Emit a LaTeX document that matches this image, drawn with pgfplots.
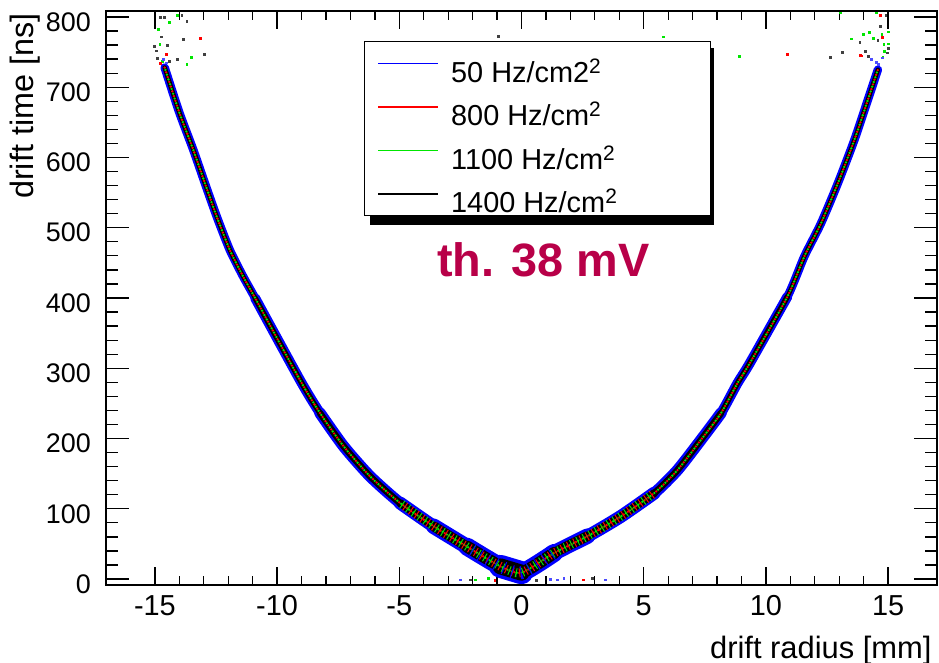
\documentclass[border=0pt]{standalone}
\usepackage{pgfplots}
\pgfplotsset{compat=1.18}
\usepackage{pgfplotstable}
\usepackage{fontspec}
\setmainfont{Liberation Sans}

\definecolor{rootblue}{RGB}{0,0,255}
\definecolor{rootred}{RGB}{255,0,0}
\definecolor{rootgreen}{RGB}{0,230,0}
\definecolor{thcolor}{RGB}{184,0,72}

% r-t relation: drift time [ns] against drift radius [mm], centre of the band
\pgfplotstableread{
r t
-14.60 728
-14.00 664
-13.43 611
-12.95 563
-12.47 516
-11.93 468
-11.38 430
-10.90 400
-9.06 283
-8.24 236
-7.28 189
-6.19 146
-4.96 108
-3.59 75
-2.22 46
-0.86 18
0.00 9
1.33 37
2.70 61
4.06 89
5.42 122
6.38 155
7.34 198
8.16 236
8.84 279
9.32 306
10.88 402
11.57 459
12.25 506
12.94 563
13.62 625
14.17 682
14.58 725
}\driftcurve

% stray hits outside the band
\pgfplotstableread{
r t
-14.77 800
-14.63 800
-13.90 802
-13.70 794
-14.74 772
-13.84 768
-15.03 758
-14.50 760
-14.95 752
-12.97 747
-14.90 741
-14.08 740
-14.40 737
14.90 803
14.67 787
13.84 764
14.57 767
15.01 755
13.11 750
14.07 751
14.17 744
12.62 743
14.96 749
-0.94 773
-2.10 -1
0.60 -2
2.90 1
}\strayblack

\pgfplotstableread{
r t
-14.10 803
-14.40 792
-14.86 783
-14.80 761
-13.50 743
-13.70 733
-14.70 737
13.03 807
14.50 807
14.99 779
13.99 776
14.24 778
14.74 775
14.40 770
13.50 769
14.99 762
14.82 761
14.85 751
14.78 743
8.90 744
5.80 772
-1.90 -1
-1.35 1
}\straygreen

\pgfplotstableread{
r t
-13.14 770
-14.55 747
-14.77 734
14.68 803
14.75 771
13.89 745
10.86 747
13.87 746
-1.10 -2
2.52 -1
}\strayred

\pgfplotstableread{
r t
14.30 740
14.50 736
14.75 742
14.60 733
-14.65 740
-14.55 735
-2.50 -1
1.19 0
1.46 -1
1.73 1
3.44 -1
}\strayblue

\newcommand{\sq}{\raisebox{9bp}{\fontsize{21}{21}\selectfont 2}}
\newcommand{\entry}[1]{\makebox[246bp][l]{\rule[-2.4bp]{0pt}{41.1bp}#1}}

\pgfplotsset{
  rootframe/.style={
    at={(106bp,78bp)}, anchor=south west,
    scale only axis, width=831bp, height=574bp,
    xmin=-17, xmax=17, ymin=-8.5, ymax=808.5,
    axis line style={line width=1.6bp},
    tick style={line width=1.3bp, black},
    tick align=inside,
    /pgf/number format/assume math mode=true,
  },
  band/.style={smooth, tension=0.4, line join=round, line cap=round, forget plot},
  speck/.style={band, dash pattern=on 0bp off 5bp},
  stripe/.style={band, line cap=butt, dash pattern=on 1bp off 6bp},
}

\begin{document}
\begin{tikzpicture}
\path[use as bounding box] (0bp,0bp) rectangle (939bp,663bp);

% drop shadow of the legend box
\fill[black] (370bp,438.3bp) rectangle (714bp,615bp);

% x ticks, data and legend
\begin{axis}[
  rootframe,
  major tick length=17.7bp, minor tick length=9bp,
  xtick={-15,-10,...,15}, minor x tick num=4,
  ytick=\empty,
  xticklabel style={font=\fontsize{29}{29}\selectfont, anchor=north, inner sep=0pt, yshift=-10bp},
  legend cell align=left,
  legend image code/.code={\draw[#1] (0bp,0bp) -- (60bp,0bp); \path (72bp,0bp);},
  legend style={at={(0.3105,0.9477)}, anchor=north west,
    draw=black, line width=1bp, fill=white,
    inner xsep=13bp, inner ysep=2bp, row sep=3.2bp,
    font=\fontsize{29}{29}\selectfont,
    nodes={inner sep=0pt}},
]
\addlegendimage{rootblue, line width=1.6bp}
\addlegendimage{rootred, line width=1.6bp}
\addlegendimage{rootgreen, line width=1.6bp}
\addlegendimage{black, line width=1.6bp}

% 50 Hz/cm2: blue halo, widening towards the wire
\addplot[rootblue, line width=8.5bp, band] table {\driftcurve};
\addplot[rootblue, line width=10bp, band, restrict x to domain=-11:11] table {\driftcurve};
\addplot[rootblue, line width=11.5bp, band, restrict x to domain=-8.3:8.3] table {\driftcurve};
\addplot[rootblue, line width=13bp, band, restrict x to domain=-5.5:5.5] table {\driftcurve};
\addplot[rootblue, line width=15.5bp, band, restrict x to domain=-3.7:3.7] table {\driftcurve};
\addplot[rootblue, line width=18bp, band, restrict x to domain=-2.3:2.3] table {\driftcurve};
\addplot[rootblue, line width=23bp, band, restrict x to domain=-1:1] table {\driftcurve};

% 1400 Hz/cm2: dark core
\addplot[black, line width=4.5bp, band] table {\driftcurve};
\addplot[black, line width=5.5bp, band, restrict x to domain=-11:11] table {\driftcurve};
\addplot[black, line width=6.5bp, band, restrict x to domain=-8.3:8.3] table {\driftcurve};
\addplot[black, line width=8bp, band, restrict x to domain=-5.5:5.5] table {\driftcurve};
\addplot[black, line width=10bp, band, restrict x to domain=-3.7:3.7] table {\driftcurve};
\addplot[black, line width=12bp, band, restrict x to domain=-2.3:2.3] table {\driftcurve};
\addplot[black, line width=16bp, band, restrict x to domain=-1:1] table {\driftcurve};

% 800 and 1100 Hz/cm2: speckles inside the core
\addplot[rootred, line width=2.6bp, speck] table {\driftcurve};
\addplot[rootgreen, line width=2.6bp, speck, dash phase=2.5bp] table {\driftcurve};
\addplot[rootred, line width=9bp, stripe, dash phase=1.5bp, restrict x to domain=-5.5:5.5] table {\driftcurve};
\addplot[rootgreen, line width=9bp, stripe, dash phase=5bp, restrict x to domain=-5.5:5.5] table {\driftcurve};
\addplot[rootblue, line width=13bp, stripe, dash pattern=on 1bp off 8bp, dash phase=3bp, restrict x to domain=-2.3:2.3] table {\driftcurve};

% stray hits
\addplot[only marks, mark=square*, mark size=0.9bp, black!75, forget plot] table {\strayblack};
\addplot[only marks, mark=square*, mark size=0.9bp, rootgreen, forget plot] table {\straygreen};
\addplot[only marks, mark=square*, mark size=0.9bp, rootred, forget plot] table {\strayred};
\addplot[only marks, mark=square*, mark size=0.9bp, rootblue!70, forget plot] table {\strayblue};

\legend{
  {\entry{50 Hz/cm2\sq}},
  {\entry{800 Hz/cm\sq}},
  {\entry{1100 Hz/cm\sq}},
  {\entry{1400 Hz/cm\sq}}}

\node[font=\bfseries\fontsize{47}{47}\selectfont, text=thcolor] at (axis cs:0.9,454) {th. 38 mV};
\end{axis}

% y ticks
\begin{axis}[
  rootframe,
  major tick length=23bp, minor tick length=12bp,
  xtick=\empty,
  ytick={0,100,...,800}, minor y tick num=4,
  yticklabel style={font=\fontsize{27}{27}\selectfont, anchor=east, inner sep=0pt, xshift=-15bp, yshift=-5bp},
]
\end{axis}

\node[rotate=90, anchor=base east, font=\fontsize{32.5}{32.5}\selectfont] at (33bp,653bp) {drift time [ns]};
\node[anchor=base east, font=\fontsize{31}{31}\selectfont] at (935bp,5bp) {drift radius [mm]};
\end{tikzpicture}
\end{document}
